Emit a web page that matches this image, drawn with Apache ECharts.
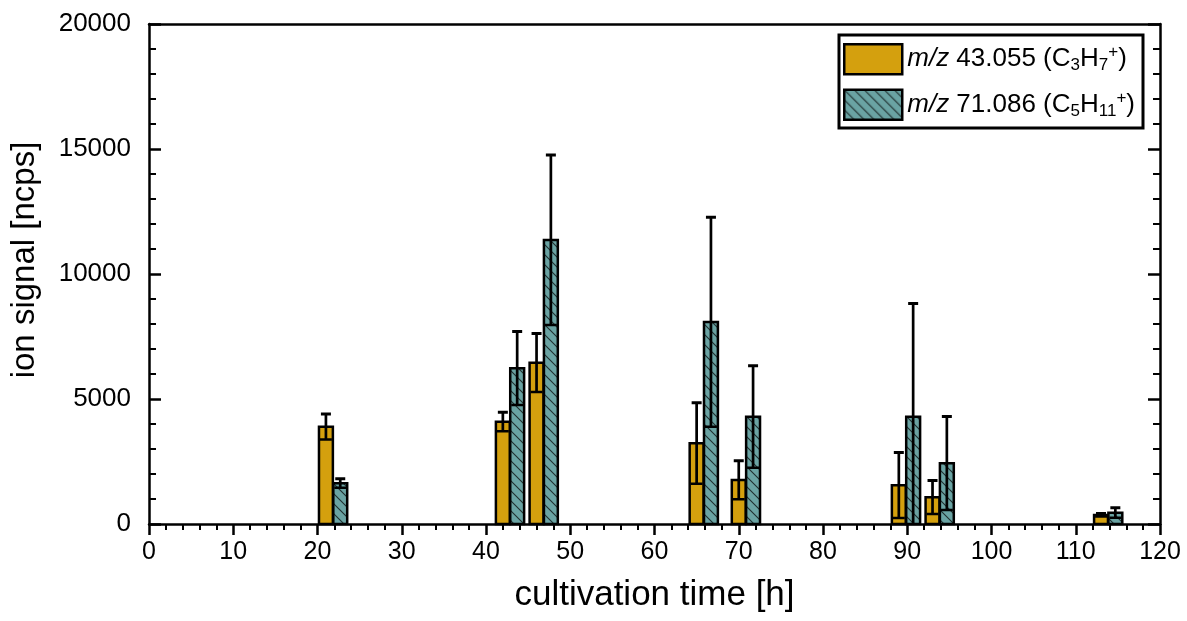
<!DOCTYPE html>
<html>
<head>
<meta charset="utf-8">
<script src="https://cdn.jsdelivr.net/npm/echarts@6/dist/echarts.min.js"></script>
<style>html,body{margin:0;padding:0;background:#fff}#chart{width:1187px;height:621px}</style>
</head>
<body>
<div id="chart"></div>
<script>
// cultivation times [h] and ion signals [ncps] with standard deviations
var goldTime = [21, 42, 46, 65, 70, 89, 93, 113];
var goldVal = [3890, 4090, 6450, 3230, 1760, 1550, 1070, 360];
var goldErr = [510, 380, 1170, 1620, 770, 1310, 670, 60];

var tealTime = [22.7, 43.7, 47.7, 66.7, 71.7, 90.7, 94.7, 114.7];
var tealVal = [1630, 6230, 11360, 8080, 4290, 4290, 2430, 450];
var tealErr = [180, 1470, 3400, 4190, 2040, 4530, 1870, 200];

var nameGold = 'm/z 43.055 (C3H7+)';
var nameTeal = 'm/z 71.086 (C5H11+)';

var font = 'Liberation Sans, Arial, sans-serif';
var gold = '#D4A00E';
var teal = '#6AA3A3';
var barW = 1.65; // bar width in hours

function hatch() {
  var s = 10;
  var c = document.createElement('canvas');
  c.width = s; c.height = s;
  var ctx = c.getContext('2d');
  ctx.fillStyle = teal;
  ctx.fillRect(0, 0, s, s);
  ctx.strokeStyle = '#203030';
  ctx.lineWidth = 1.1;
  ctx.beginPath();
  ctx.moveTo(-1, -1); ctx.lineTo(s + 1, s + 1);
  ctx.moveTo(-1, s - 1); ctx.lineTo(1, s + 1);
  ctx.moveTo(s - 1, -1); ctx.lineTo(s + 1, 1);
  ctx.stroke();
  return c;
}
var tealFill = { image: hatch(), repeat: 'repeat' };

function zip(t, v, e) {
  return t.map(function (x, i) { return [x, v[i], e[i]]; });
}

function barRender(fill) {
  return function (params, api) {
    var x = api.value(0), y = api.value(1);
    var p0 = api.coord([x - barW / 2, y]);
    var p1 = api.coord([x + barW / 2, 0]);
    return {
      type: 'rect',
      shape: { x: p0[0], y: p0[1], width: p1[0] - p0[0], height: p1[1] - p0[1] },
      style: { fill: fill, stroke: '#000', lineWidth: 2.5 }
    };
  };
}

function errRender(params, api) {
  var x = api.value(0), y = api.value(1), e = api.value(2);
  var top = api.coord([x, y + e]);
  var low = y - e > 0 ? y - e : 0;
  var bot = api.coord([x, low]);
  var hw = api.size([barW, 0])[0] / 2 - 1;
  var kids = [
    { type: 'line', shape: { x1: top[0], y1: top[1], x2: bot[0], y2: bot[1] }, style: { stroke: '#000', lineWidth: 2.7 } },
    { type: 'line', shape: { x1: top[0] - 5, y1: top[1], x2: top[0] + 5, y2: top[1] }, style: { stroke: '#000', lineWidth: 3 } }
  ];
  if (low > 0) {
    kids.push({ type: 'line', shape: { x1: bot[0] - hw, y1: bot[1], x2: bot[0] + hw, y2: bot[1] }, style: { stroke: '#000', lineWidth: 2.5 } });
  }
  return { type: 'group', children: kids };
}

var labels = {};
labels[nameGold] = '{i|m/z} 43.055 (C{sub|3}H{sub|7}{sup|+})';
labels[nameTeal] = '{i|m/z} 71.086 (C{sub|5}H{sub|11}{sup|+})';

var myChart = echarts.init(document.getElementById('chart'));
var option = {
  animation: false,
  textStyle: { fontFamily: font },
  grid: { left: 145, right: 27, top: 24, bottom: 97 },
  legend: {
    data: [nameGold, nameTeal],
    orient: 'vertical',
    right: 44,
    top: 35,
    icon: 'rect',
    itemWidth: 58,
    itemHeight: 30,
    itemGap: 13,
    padding: [8, 8, 7, 4],
    borderColor: '#000',
    borderWidth: 3,
    backgroundColor: '#fff',
    itemStyle: { borderColor: '#000', borderWidth: 2.5 },
    formatter: function (name) { return labels[name]; },
    textStyle: {
      fontFamily: font,
      fontSize: 26,
      color: '#000',
      lineHeight: 30,
      rich: {
        i: { fontFamily: font, fontSize: 26, fontStyle: 'italic', color: '#000' },
        sub: { fontFamily: font, fontSize: 17, lineHeight: 16, verticalAlign: 'bottom', color: '#000' },
        sup: { fontFamily: font, fontSize: 17, lineHeight: 16, verticalAlign: 'top', color: '#000' }
      }
    }
  },
  xAxis: [{
    type: 'value',
    min: 0, max: 120, interval: 10,
    name: 'cultivation time [h]',
    nameLocation: 'middle',
    nameGap: 54,
    nameTextStyle: { fontSize: 35, color: '#000', fontFamily: font },
    axisLine: { onZero: false, lineStyle: { color: '#000', width: 2.5 } },
    axisTick: { length: 11, lineStyle: { color: '#000', width: 2.5 } },
    minorTick: { show: true, splitNumber: 5, length: 6, lineStyle: { color: '#000', width: 2 } },
    axisLabel: { fontSize: 25, color: '#000', margin: 16, fontFamily: font },
    splitLine: { show: false }
  }, {
    type: 'value',
    position: 'top',
    min: 0, max: 120, interval: 10,
    axisLine: { onZero: false, lineStyle: { color: '#000', width: 2.5 } },
    axisTick: { show: false },
    axisLabel: { show: false },
    splitLine: { show: false }
  }],
  yAxis: [{
    type: 'value',
    min: 0, max: 20000, interval: 5000,
    name: 'ion signal [ncps]',
    nameLocation: 'middle',
    nameGap: 108,
    nameTextStyle: { fontSize: 33, color: '#000', fontFamily: font, padding: [0, 0, 0, 28] },
    axisLine: { show: true, onZero: false, lineStyle: { color: '#000', width: 2.5 } },
    axisTick: { inside: true, length: 12, lineStyle: { color: '#000', width: 2.5 } },
    minorTick: { show: true, splitNumber: 5, length: 7, lineStyle: { color: '#000', width: 2 } },
    axisLabel: { fontSize: 26, color: '#000', margin: 18, fontFamily: font, formatter: function (v) { return String(v); } },
    splitLine: { show: false }
  }, {
    type: 'value',
    position: 'right',
    min: 0, max: 20000, interval: 5000,
    axisLine: { show: true, onZero: false, lineStyle: { color: '#000', width: 2.5 } },
    axisTick: { inside: true, length: 12, lineStyle: { color: '#000', width: 2.5 } },
    minorTick: { show: true, splitNumber: 5, length: 7, lineStyle: { color: '#000', width: 2 } },
    axisLabel: { show: false },
    splitLine: { show: false }
  }],
  series: [
    {
      name: nameGold,
      type: 'custom',
      renderItem: barRender(gold),
      itemStyle: { color: gold },
      data: zip(goldTime, goldVal, goldErr),
      z: 2
    },
    {
      name: nameTeal,
      type: 'custom',
      renderItem: barRender(tealFill),
      itemStyle: { color: tealFill },
      data: zip(tealTime, tealVal, tealErr),
      z: 2
    },
    {
      name: 'err gold',
      type: 'custom',
      renderItem: errRender,
      data: zip(goldTime, goldVal, goldErr),
      z: 3
    },
    {
      name: 'err teal',
      type: 'custom',
      renderItem: errRender,
      data: zip(tealTime, tealVal, tealErr),
      z: 3
    }
  ]
};

myChart.setOption(option);
</script>
</body>
</html>
